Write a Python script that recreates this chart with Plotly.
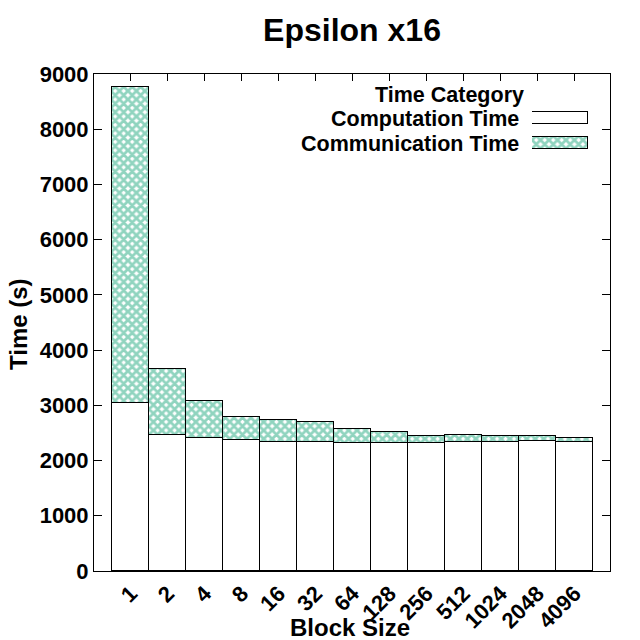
import plotly.graph_objects as go

block_sizes = ["1", "2", "4", "8", "16", "32", "64", "128", "256", "512", "1024", "2048", "4096"]
computation = [3037, 2457, 2403, 2367, 2342, 2342, 2324, 2324, 2312, 2330, 2330, 2348, 2330]
communication = [5728, 1196, 681, 428, 398, 362, 253, 188, 139, 139, 121, 91, 85]
legend_labels = ["Computation Time", "Communication Time"]
y_ticks = [0, 1000, 2000, 3000, 4000, 5000, 6000, 7000, 8000, 9000]

FONT = "Liberation Sans"
GREEN = "#22aa80"
PATTERN = dict(shape="x", fgcolor=GREEN, bgcolor="white", size=6, solidity=0.72, fillmode="overlay")
xs = list(range(len(block_sizes)))

fig = go.Figure()
fig.add_trace(go.Bar(x=xs, y=computation, width=1.0, name=legend_labels[0],
                     marker=dict(color="white", line=dict(color="black", width=1.2)),
                     showlegend=False))
fig.add_trace(go.Bar(x=xs, y=communication, width=1.0, name=legend_labels[1],
                     marker=dict(color="white", line=dict(color="black", width=1.2),
                                 pattern=PATTERN),
                     showlegend=False))

# custom legend swatches (gnuplot style: text left, swatch right)
fig.add_trace(go.Bar(x=[1], y=[1], orientation="h", width=0.48, base=0,
                     marker=dict(color="white", line=dict(color="black", width=1.2)),
                     xaxis="x3", yaxis="y3", showlegend=False, hoverinfo="skip"))
fig.add_trace(go.Bar(x=[1], y=[0], orientation="h", width=0.48, base=0,
                     marker=dict(color="white", line=dict(color="black", width=1.2),
                                 pattern=PATTERN),
                     xaxis="x3", yaxis="y3", showlegend=False, hoverinfo="skip"))
# invisible trace to activate top tick axis
fig.add_trace(go.Scatter(x=[0], y=[0], xaxis="x2", mode="markers",
                         marker=dict(opacity=0), showlegend=False, hoverinfo="skip"))

L, R, T, B = 94, 30, 74, 69
W, H = 640 - L - R, 640 - T - B

def px(p):
    return (p - L) / W

def py(p):
    return (640 - B - p) / H

fig.update_layout(
    width=640, height=640,
    margin=dict(l=L, r=R, t=T, b=B, autoexpand=False),
    paper_bgcolor="white", plot_bgcolor="white",
    barmode="stack", bargap=0,
    font=dict(family=FONT, size=22, color="black"),
    title=dict(text="<b>Epsilon x16</b>", x=px(352), xref="paper", xanchor="center",
               y=1 - 30 / 640, yref="container", yanchor="middle",
               font=dict(size=32, family=FONT)),
    xaxis=dict(range=[-1, 12.96], tickmode="array", tickvals=xs,
               ticktext=["<b>%s</b>" % b for b in block_sizes], tickangle=-45,
               ticks="", showgrid=False, zeroline=False, showline=True,
               linecolor="black", linewidth=1, mirror=True, automargin=False,
               tickfont=dict(size=22, family=FONT)),
    xaxis2=dict(range=[-1, 12.96], overlaying="x", side="top", tickmode="array",
                tickvals=xs, showticklabels=False, ticks="inside", ticklen=7,
                tickcolor="black", showgrid=False, zeroline=False, showline=False,
                automargin=False),
    yaxis=dict(range=[0, 9000], tickmode="array", tickvals=y_ticks,
               ticktext=["<b>%d</b>" % v for v in y_ticks],
               ticks="inside", ticklen=8, tickcolor="black", mirror="ticks",
               showgrid=False, zeroline=False, showline=True, linecolor="black",
               linewidth=1, automargin=False, tickfont=dict(size=22, family=FONT)),
    xaxis3=dict(domain=[px(532), px(588)], range=[0, 1], visible=False,
                fixedrange=True, anchor="y3"),
    yaxis3=dict(domain=[py(155.7), py(106.1)], range=[-0.5, 1.5], visible=False,
                fixedrange=True, anchor="x3"),
)

anns = [
    dict(text="<b>Time Category</b>", x=px(526), y=py(95)),
    dict(text="<b>%s</b>" % legend_labels[0], x=px(521), y=py(119)),
    dict(text="<b>%s</b>" % legend_labels[1], x=px(521), y=py(144)),
]
for a in anns:
    fig.add_annotation(text=a["text"], x=a["x"], y=a["y"], xref="paper", yref="paper",
                       xanchor="right", yanchor="middle", showarrow=False,
                       font=dict(size=21.5, family=FONT))

fig.add_annotation(text="<b>Block Size</b>", x=px(350), y=py(627), xref="paper", yref="paper",
                   xanchor="center", yanchor="middle", showarrow=False,
                   font=dict(size=24, family=FONT))
fig.add_annotation(text="<b>Time (s)</b>", x=px(18), y=py(324), xref="paper", yref="paper",
                   xanchor="center", yanchor="middle", showarrow=False, textangle=-90,
                   font=dict(size=24, family=FONT))

fig.write_html("out.html")
